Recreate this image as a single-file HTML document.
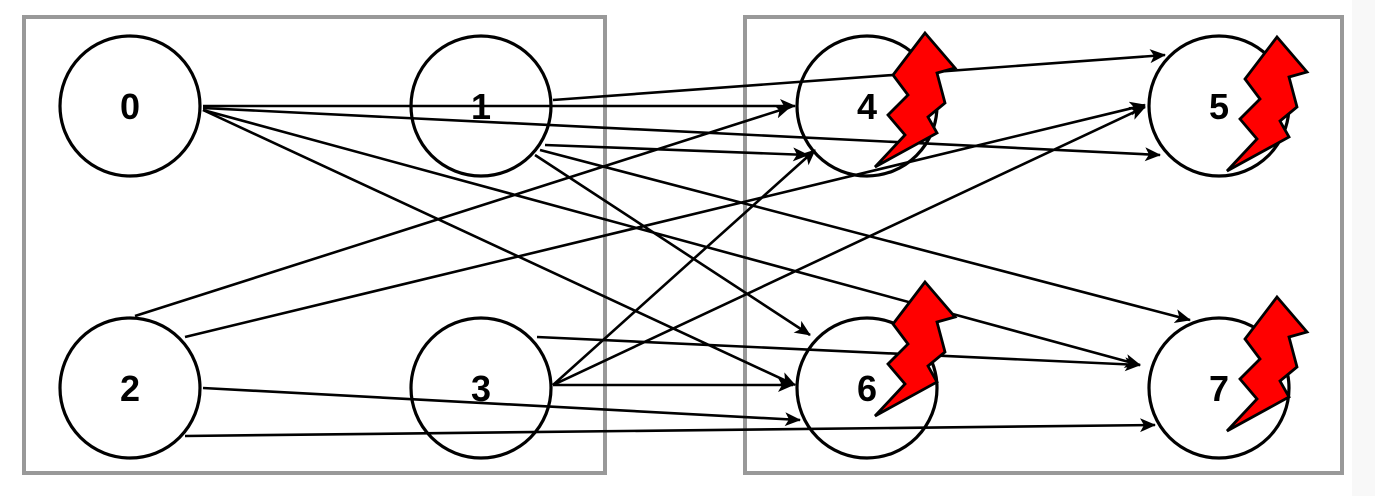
<!DOCTYPE html>
<html><head><meta charset="utf-8"><style>
body{margin:0;background:#f8f8f8;width:1375px;height:496px;overflow:hidden}
svg{display:block}
text{font-family:"Liberation Sans",sans-serif;font-weight:bold;font-size:36px}
</style></head><body>
<svg width="1375" height="496" viewBox="0 0 1375 496">
<defs><marker id="ah" markerWidth="16" markerHeight="16" refX="15" refY="8" orient="auto" markerUnits="userSpaceOnUse">
<path d="M0,1 L16,8 L0,15 L4,8 Z" fill="#000"/></marker></defs>
<rect x="0" y="0" width="1352" height="496" fill="#fff"/>
<rect x="24" y="17" width="581" height="456" fill="none" stroke="#999" stroke-width="4"/>
<rect x="745" y="17" width="597" height="456" fill="none" stroke="#999" stroke-width="4"/>
<g id="edges" stroke="#000" stroke-width="2.6" fill="none"></g>
<g id="nodes"></g>
</svg>
<script>
const ns="http://www.w3.org/2000/svg";
const nodeIds=[0,1,2,3,4,5,6,7];
const nodeX=[130,481,130,481,867,1219,867,1219];
const nodeY=[106,106,388,388,106,106,388,388];
const failed=[4,5,6,7];
const boltShift=[0,0,0,0,0,4,-33,-18];
const edges=[
[203,106,795,106],[203,108,1160,155],[203,110,795,385],[203,110,1140,365],
[553,100,1165,55],[545,145,808,155],[535,155,810,335],[540,150,1190,320],
[135,316,790,107],[185,337,1145,105],[203,388,800,420],[185,436,1155,425],
[553,385,815,150],[553,385,1145,107],[553,385,793,385],[537,337,1140,365]];
const eg=document.getElementById('edges');
edges.forEach((e,i)=>{const l=document.createElementNS(ns,'line');
l.setAttribute('x1',e[0]);l.setAttribute('y1',e[1]);l.setAttribute('x2',e[2]);l.setAttribute('y2',e[3]);
l.setAttribute('marker-end','url(#ah)');


eg.appendChild(l);});
const ng=document.getElementById('nodes');
const bolt="58,-73 88,-38 70,-33 78,-3 61,11 70,27 8,61 38,29 21,9 41,-11 26,-31";
nodeIds.forEach((id,i)=>{
const c=document.createElementNS(ns,'circle');
c.setAttribute('cx',nodeX[i]);c.setAttribute('cy',nodeY[i]);c.setAttribute('r',70);
c.setAttribute('fill','none');c.setAttribute('stroke','#000');c.setAttribute('stroke-width','3.2');


ng.appendChild(c);
const t=document.createElementNS(ns,'text');
t.setAttribute('x',nodeX[i]);t.setAttribute('y',nodeY[i]+13);t.setAttribute('text-anchor','middle');
t.textContent=id;


ng.appendChild(t);
if(failed.includes(id)){const p=document.createElementNS(ns,'polygon');
p.setAttribute('points',bolt);p.setAttribute('fill','#f00');p.setAttribute('stroke','#000');p.setAttribute('stroke-width','2.8');p.setAttribute('stroke-linejoin','miter');
p.setAttribute('transform','translate('+nodeX[i]+','+(nodeY[i]+boltShift[i])+')');


ng.appendChild(p);}
});
</script>
</body></html>
